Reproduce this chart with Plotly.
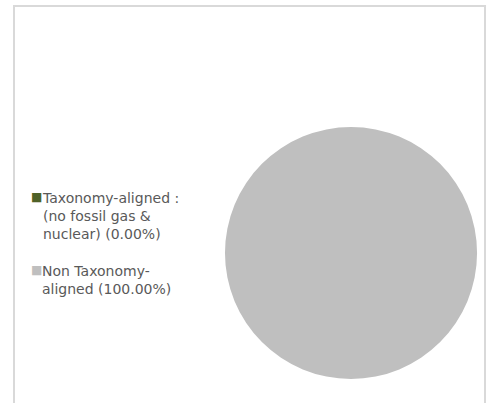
import plotly.graph_objects as go

labels = ["Taxonomy-aligned :<br>(no fossil gas &<br>nuclear) (0.00%)",
          "Non Taxonomy-<br>aligned (100.00%)"]
values = [0.0, 100.0]
colors = ["#4F6228", "#BFBFBF"]

W, H = 488, 403

fig = go.Figure(go.Pie(
    labels=labels, values=values, sort=False, direction="clockwise",
    marker=dict(colors=colors, line=dict(width=0)),
    textinfo="none", hoverinfo="label", showlegend=False,
    domain=dict(x=[0.4611, 0.9775], y=[0.0596, 0.6849]),
))

legend_text_x = 0.0820
legend_marker_x = 0.0748
legend_tops = [0.5335, 0.3524]
legend_mids = [0.5112, 0.3300]

annotations = []
for lab, col, yt, ym in zip(labels, colors, legend_tops, legend_mids):
    annotations.append(dict(
        xref="paper", yref="paper", x=legend_text_x, y=yt,
        xanchor="left", yanchor="top", align="left", showarrow=False,
        text=lab, font=dict(family="DejaVu Sans", size=14, color="#595959")))
    annotations.append(dict(
        xref="paper", yref="paper", x=legend_marker_x, y=ym,
        xanchor="center", yanchor="middle", showarrow=False,
        text="■", font=dict(family="DejaVu Sans", size=12, color=col)))

border = dict(color="#D9D9D9", width=2)
fig.update_layout(
    width=W, height=H,
    margin=dict(l=0, r=0, t=0, b=0),
    paper_bgcolor="white", plot_bgcolor="white",
    font=dict(family="DejaVu Sans", size=14, color="#595959"),
    annotations=annotations,
    shapes=[
        dict(type="line", xref="paper", yref="paper", x0=0.0287, x1=0.0287, y0=-0.05, y1=0.9851, line=border),
        dict(type="line", xref="paper", yref="paper", x0=0.0266, x1=0.9960, y0=0.9851, y1=0.9851, line=border),
        dict(type="line", xref="paper", yref="paper", x0=0.9939, x1=0.9939, y0=-0.05, y1=0.9851, line=border),
    ],
)

fig.write_html("out.html", config={"displayModeBar": False},
               post_script="document.body.style.margin='0';document.body.style.overflow='hidden';")
